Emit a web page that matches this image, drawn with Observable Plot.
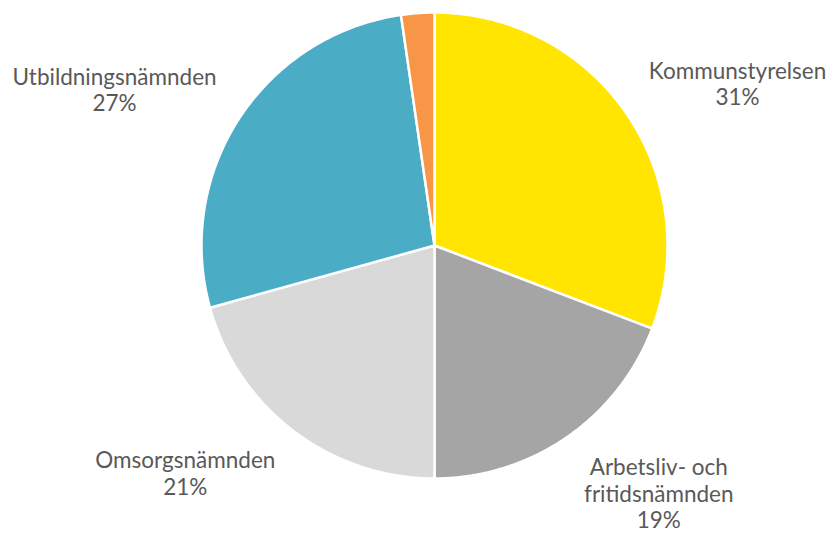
<!DOCTYPE html>
<html><head><meta charset="utf-8">
<script src="https://cdn.jsdelivr.net/npm/d3@7"></script>
<script src="https://cdn.jsdelivr.net/npm/@observablehq/plot@0.6"></script>
<style>body{margin:0;background:#fff}</style>
</head><body><div id="chart"></div>
<script>
// ---- data ----
const categories = ["Kommunstyrelsen", "Arbetsliv- och fritidsnämnden", "Omsorgsnämnden", "Utbildningsnämnden", "Övrigt"];
const labelNames = ["Kommunstyrelsen", "Arbetsliv- och\nfritidsnämnden", "Omsorgsnämnden", "Utbildningsnämnden", ""];
const shares = [30.8, 19.2, 20.7, 27.0, 2.3];
const showLabel = [true, true, true, true, false];
const colors = ["#FFE500", "#A5A5A5", "#D9D9D9", "#4BACC6", "#F79646"];

// ---- layout ----
const W = 828, H = 533, R = 233, CX = 434, CY = 245;
const FONT = "Lato", FS = 22.5, LH = 1.17;

const rows = categories.map((c, i) => ({category: c, name: labelNames[i], share: shares[i], show: showLabel[i]}));
const arcs = d3.pie().sort(null).value(d => d.share)(rows);
const total = d3.sum(shares);

// slice outlines (unit radius, y up)
const pts = [];
arcs.forEach(a => {
  const c = a.data.category;
  pts.push({category: c, x: 0, y: 0});
  const n = Math.max(2, Math.ceil((a.endAngle - a.startAngle) / (Math.PI / 360)));
  for (let k = 0; k <= n; k++) {
    const t = a.startAngle + (a.endAngle - a.startAngle) * k / n;
    pts.push({category: c, x: Math.sin(t), y: Math.cos(t)});
  }
  pts.push({category: c, x: 0, y: 0});
});

// labels (outside end, box pushed away from the pie)
const ctx = document.createElement("canvas").getContext("2d");
ctx.font = `${FS}px ${FONT}`;
const labels = arcs.filter(a => a.data.show).map(a => {
  const pct = Math.round(a.data.share / total * 100) + "%";
  const text = a.data.name + "\n" + pct;
  const lines = text.split("\n");
  const hw = d3.max(lines, l => ctx.measureText(l).width) / 2 + 6;
  const hh = lines.length * FS * LH / 2;
  const m = (a.startAngle + a.endAngle) / 2;
  const k = (R + 20) / R;
  const s = Math.sin(m), c = Math.cos(m);
  return {
    text,
    x: k * s + Math.sign(s) * hw / R,
    y: k * c + Math.sign(c) * Math.min(1, Math.abs(c) * 1.25) * hh / R
  };
});

const chart = Plot.plot({
  width: W, height: H,
  margin: 0,
  x: {domain: [-CX / R, (W - CX) / R], axis: null},
  y: {domain: [-(H - CY) / R, CY / R], axis: null},
  color: {domain: categories, range: colors},
  style: {fontFamily: FONT, background: "#fff"},
  marks: [
    Plot.line(pts, {x: "x", y: "y", z: "category", fill: "category", stroke: "#fff", strokeWidth: 2.5, strokeLinejoin: "round", curve: "linear"}),
    Plot.text(labels, {x: "x", y: "y", text: "text", fontSize: FS, lineHeight: LH, fill: "#595959", textAnchor: "middle", lineAnchor: "middle"})
  ]
});
document.getElementById("chart").appendChild(chart);
</script>
</body></html>
